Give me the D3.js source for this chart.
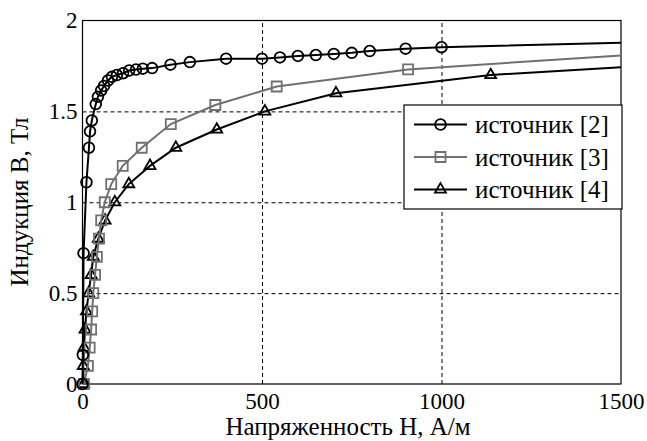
<html>
  <head>
    <meta charset="utf-8" />
    <script src="https://d3js.org/d3.v7.min.js"></script>
  </head>
  <style>
    body { margin: 0; background: #fff; }
  </style>
  <body>
    <div id="viz"><svg width="647" height="441"></svg></div>
    <script>
      // источник [2] - кружки
      var H1 = [0, 1, 3, 11, 18, 21, 26, 37, 43, 52, 60, 71, 82, 96, 113, 130, 149, 168, 194, 245, 299, 400, 500, 550, 600, 650, 700, 750, 800, 900, 1000, 1500];
      var B1 = [0, 0.16, 0.72, 1.11, 1.30, 1.39, 1.45, 1.54, 1.58, 1.615, 1.64, 1.67, 1.69, 1.70, 1.71, 1.725, 1.73, 1.735, 1.738, 1.757, 1.771, 1.79, 1.79, 1.797, 1.805, 1.81, 1.816, 1.822, 1.832, 1.845, 1.853, 1.877];
      // источник [3] - квадраты
      var H3 = [4, 15, 20, 24, 27, 30, 35, 40, 46, 52, 62, 80, 112, 165, 246, 370, 541, 907, 1500];
      var B3 = [0, 0.1, 0.2, 0.3, 0.4, 0.5, 0.6, 0.7, 0.8, 0.9, 1.0, 1.1, 1.2, 1.3, 1.43, 1.535, 1.637, 1.731, 1.808];
      // источник [4] - треугольники
      var H4 = [3, 2, 4, 7, 11, 17, 24, 30, 44, 63, 90, 129, 188, 260, 374, 508, 706, 1137, 1500];
      var B4 = [0, 0.1, 0.2, 0.3, 0.4, 0.5, 0.6, 0.7, 0.8, 0.9, 1.0, 1.1, 1.2, 1.3, 1.4, 1.5, 1.6, 1.7, 1.743];
      var seriesNames = ["источник [2]", "источник [3]", "источник [4]"];
      var xTicks = [0, 500, 1000, 1500];
      var xTickLabels = ["0", "500", "1000", "1500"];
      var yTicks = [0, 0.5, 1, 1.5, 2];
      var yTickLabels = ["0", "0.5", "1", "1.5", "2"];

      var FONT = "'Liberation Serif', 'Times New Roman', 'DejaVu Serif', serif";
      var mLeft = 82.5, mRight = 621, mTop = 20.5, mBottom = 384;
      var svg = d3.select("svg").attr("font-family", FONT);
      var x = d3.scaleLinear().domain([0, 1500]).range([mLeft, mRight]);
      var y = d3.scaleLinear().domain([0, 2]).range([mBottom, mTop]);

      // сетка
      svg.append("g")
        .attr("transform", "translate(0," + mBottom + ")")
        .call(d3.axisBottom(x).tickValues(xTicks.slice(1, -1)).tickSize(-(mBottom - mTop)).tickFormat(""))
        .call(function (g) { g.select(".domain").remove(); })
        .selectAll("line").attr("stroke", "#000").attr("stroke-dasharray", "4,3");
      svg.append("g")
        .attr("transform", "translate(" + mLeft + ",0)")
        .call(d3.axisLeft(y).tickValues(yTicks.slice(1, -1)).tickSize(-(mRight - mLeft)).tickFormat(""))
        .call(function (g) { g.select(".domain").remove(); })
        .selectAll("line").attr("stroke", "#000").attr("stroke-dasharray", "4,3");

      // рамка
      svg.append("rect")
        .attr("x", mLeft).attr("y", mTop)
        .attr("width", mRight - mLeft).attr("height", mBottom - mTop)
        .attr("fill", "none").attr("stroke", "#000").attr("stroke-width", 1.2);

      // подписи делений
      var xa = svg.append("g")
        .attr("transform", "translate(0," + mBottom + ")")
        .call(d3.axisBottom(x).tickValues(xTicks).tickSize(0).tickPadding(9)
          .tickFormat(function (d, i) { return xTickLabels[i]; }));
      xa.select(".domain").remove();
      xa.selectAll("text").attr("fill", "#000").attr("font-family", FONT).attr("font-size", 23);

      var ya = svg.append("g")
        .attr("transform", "translate(" + mLeft + ",0)")
        .call(d3.axisLeft(y).tickValues(yTicks).tickSize(0).tickPadding(5)
          .tickFormat(function (d, i) { return yTickLabels[i]; }));
      ya.select(".domain").remove();
      ya.selectAll("text").attr("fill", "#000").attr("font-family", FONT).attr("font-size", 23);

      // подписи осей
      svg.append("text")
        .attr("x", 348).attr("y", 435)
        .attr("text-anchor", "middle").attr("font-size", 25).attr("font-family", FONT)
        .text("Напряженность H, А/м");
      svg.append("text")
        .attr("transform", "translate(28," + 202 + ") rotate(-90)")
        .attr("text-anchor", "middle").attr("font-size", 25).attr("font-family", FONT)
        .text("Индукция B, Тл");

      var series = [
        { h: H1, b: B1, color: "#000", sym: d3.symbolCircle, size: 90, marks: H1.length - 1 },
        { h: H3, b: B3, color: "#707070", sym: d3.symbolSquare, size: 100, marks: H3.length - 1 },
        { h: H4, b: B4, color: "#000", sym: d3.symbolTriangle, size: 52, marks: H4.length - 1 }
      ];

      var line = d3.line().x(function (d) { return x(d[0]); }).y(function (d) { return y(d[1]); });

      series.slice().reverse().forEach(function (s) {
        var pts = s.h.map(function (h, i) { return [h, s.b[i]]; });
        svg.append("path").datum(pts)
          .attr("d", line).attr("fill", "none")
          .attr("stroke", s.color).attr("stroke-width", 2);
        svg.append("g").selectAll("path")
          .data(pts.slice(0, s.marks))
          .enter().append("path")
          .attr("d", d3.symbol().type(s.sym).size(s.size))
          .attr("transform", function (d) { return "translate(" + x(d[0]) + "," + y(d[1]) + ")"; })
          .attr("fill", "none").attr("stroke", s.color).attr("stroke-width", 1.8);
      });

      // легенда
      var lg = svg.append("g").attr("transform", "translate(404,105)");
      lg.append("rect").attr("width", 218).attr("height", 104)
        .attr("fill", "#fff").attr("stroke", "#000").attr("stroke-width", 1.2);
      series.forEach(function (s, i) {
        var yy = 19.5 + i * 32.5;
        lg.append("line").attr("x1", 10).attr("x2", 63).attr("y1", yy).attr("y2", yy)
          .attr("stroke", s.color).attr("stroke-width", 2);
        lg.append("path").attr("d", d3.symbol().type(s.sym).size(s.size))
          .attr("transform", "translate(36.5," + yy + ")")
          .attr("fill", "none").attr("stroke", s.color).attr("stroke-width", 1.8);
        lg.append("text").attr("x", 71).attr("y", yy + 8.5)
          .attr("font-size", 25).attr("font-family", FONT).text(seriesNames[i]);
      });
    </script>
  </body>
</html>
